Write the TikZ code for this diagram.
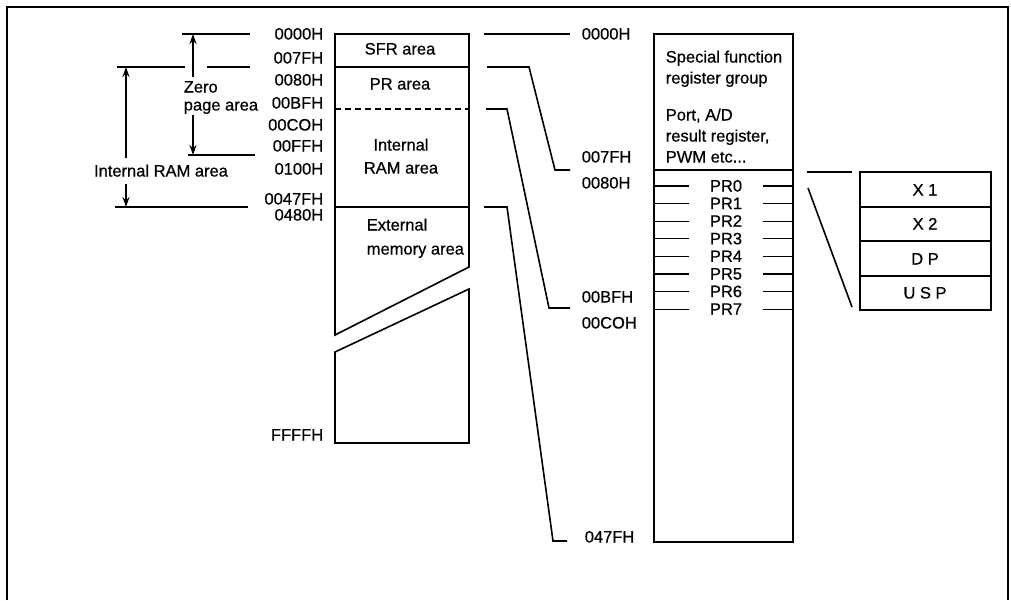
\documentclass[tikz,border=0pt]{standalone}
\usepackage{fontspec}
\setmainfont{Liberation Sans}
\newfontfamily\lblfont[FakeBold=0.6]{Liberation Sans}
\usetikzlibrary{arrows.meta}
\begin{document}
\begin{tikzpicture}[x=1pt,y=-1pt, line width=1.6pt, line join=miter,
  lbl/.style={inner sep=0pt, text height=11pt, text depth=0pt, font=\lblfont\fontsize{16.5}{18}\selectfont},
  addrR/.style={lbl, anchor=east},
  addrL/.style={lbl, anchor=west},
  dim/.style={-{Stealth[length=10pt,width=7pt]}},
  leader/.style={line width=1.6pt},
  thinline/.style={line width=1.2pt}]
\useasboundingbox (0,0) rectangle (1011,600);
% frame
\draw[line width=2pt] (7,600) -- (7,7) -- (1008,7) -- (1008,600);

% ---------- left dimension marks ----------
\draw[thinline] (182,34) -- (250,34);
\draw[thinline] (117,67) -- (185,67);
\draw[thinline] (207,67) -- (250,67);
\draw[thinline] (188,155) -- (255,155);
\draw[thinline] (115,207) -- (248,207);
\node[addrL] (zero1) at (183,87) {Zero};
\node[addrL] (zero2) at (183,105) {page area};
\draw[dim] (193,77) -- (193,34);
\draw[dim] (193,115) -- (193,155);
\node[lbl] (iramlbl) at (161,171) {Internal RAM area};
\draw[dim] (126,158) -- (126,67);
\draw[dim] (126,184) -- (126,207);

% ---------- left addresses ----------
\node[addrR] (a0000) at (324,34) {0000H};
\node[addrR] (a007F) at (324,58) {007FH};
\node[addrR] (a0080) at (324,80) {0080H};
\node[addrR] (a00BF) at (324,103) {00BFH};
\node[addrR] (a00C0) at (324,125) {00COH};
\node[addrR] (a00FF) at (324,146) {00FFH};
\node[addrR] (a0100) at (324,169) {0100H};
\node[addrR] (a047F) at (324,199) {0047FH};
\node[addrR] (a0480) at (324,215) {0480H};
\node[addrR] (aFFFF) at (324,435) {FFFFH};

% ---------- middle column ----------
\draw (335,34) rectangle (469,207);
\draw (335,67) -- (469,67);
\draw[thinline, dash pattern=on 6pt off 4pt] (335,109) -- (469,109);
\node[lbl] (sfr) at (400,49) {SFR area};
\node[lbl] (pra) at (400,84) {PR area};
\node[lbl] (int1) at (401,145) {Internal};
\node[lbl] (int2) at (401,168) {RAM area};
\draw (469,207) -- (469,267) -- (335,335) -- (335,207);
\draw (335,352) -- (469,289) -- (469,443) -- (335,443) -- cycle;
\node[addrL] (ext1) at (366,225) {External};
\node[addrL] (ext2) at (366,249) {memory area};

% ---------- leader lines ----------
\coordinate (l1a) at (484,34);  \coordinate (l1b) at (570,34);
\draw[leader] (l1a) -- (l1b);
\coordinate (l2a) at (487,67);
\draw[leader] (l2a) -- (529,67) -- (555,170) -- (570,170);
\coordinate (l3a) at (486,109);
\draw[leader] (l3a) -- (507,109) -- (549,308) -- (570,308);
\coordinate (l4a) at (484,207);
\draw[leader] (l4a) -- (507,207) -- (553,541) -- (567,541);

% ---------- middle addresses ----------
\node[addrL] (b0000) at (581,34) {0000H};
\node[addrL] (b007F) at (581,157) {007FH};
\node[addrL] (b0080) at (581,183) {0080H};
\node[addrL] (b00BF) at (581,297) {00BFH};
\node[addrL] (b00C0) at (581,323) {00COH};
\node[addrL] (b047F) at (584,537) {047FH};

% ---------- right column ----------
\draw (654,34) rectangle (793,542);
\draw (654,170) -- (793,170);
\node[addrL] (sf1) at (665,57) {Special function};
\node[addrL] (sf2) at (665,78) {register group};
\node[addrL] (sf3) at (665,115) {Port, A/D};
\node[addrL] (sf4) at (665,136) {result register,};
\node[addrL] (sf5) at (665,157) {PWM etc...};
\foreach \i in {0,...,7}{
  \pgfmathsetmacro{\yy}{186+17.6*\i}
  \draw[thinline] (655,\yy) -- (689,\yy);
  \draw[thinline] (763,\yy) -- (793,\yy);
  \node[lbl] (pr\i) at (726,\yy) {PR\i};
}

% ---------- register boxes ----------
\draw (860,172) rectangle (991,310);
\draw (860,207) -- (991,207);
\draw (860,241) -- (991,241);
\draw (860,276) -- (991,276);
\node[lbl] (x1) at (925,190) {X 1};
\node[lbl] (x2) at (925,224) {X 2};
\node[lbl] (dp) at (925,259) {D P};
\node[lbl] (usp) at (925,293) {U S P};
\draw[leader] (807,172) -- (852,172);
\draw[leader] (808,188) -- (852,307);
\end{tikzpicture}
\end{document}
